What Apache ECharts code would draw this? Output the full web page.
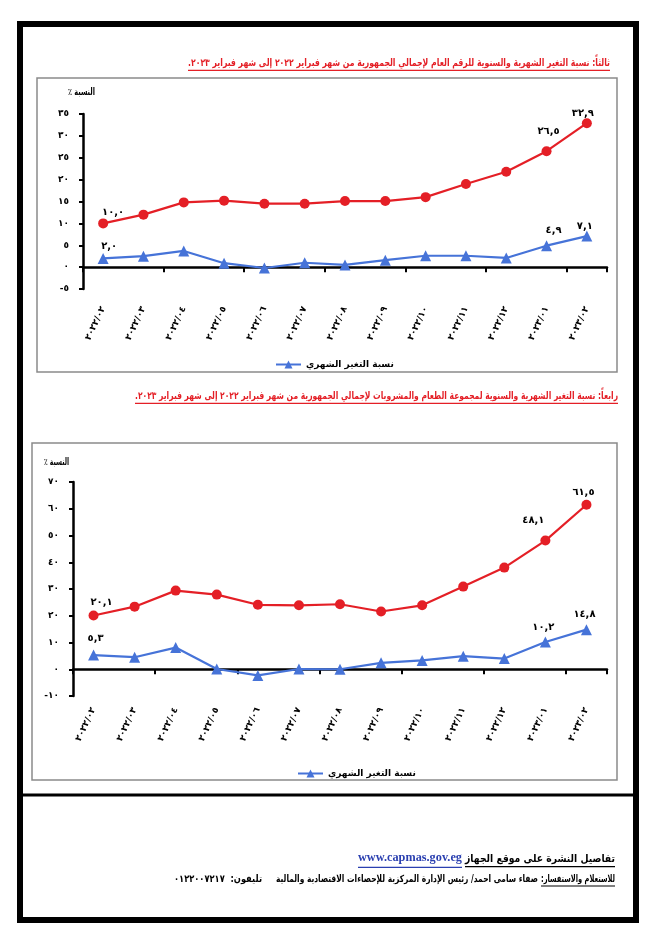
<!DOCTYPE html>
<html><head><meta charset="utf-8">
<script src="https://cdn.jsdelivr.net/npm/echarts@6/dist/echarts.min.js"></script>
<style>html,body{margin:0;padding:0;background:#fff}#c{width:664px;height:940px}</style>
</head><body><div id="c"></div>
<script>
// ---- data ----
const categories = ['٢٠٢٢/٠٢','٢٠٢٢/٠٣','٢٠٢٢/٠٤','٢٠٢٢/٠٥','٢٠٢٢/٠٦','٢٠٢٢/٠٧','٢٠٢٢/٠٨','٢٠٢٢/٠٩','٢٠٢٢/١٠','٢٠٢٢/١١','٢٠٢٢/١٢','٢٠٢٣/٠١','٢٠٢٣/٠٢'];
const chart1Annual  = [10.0, 12.0, 14.8, 15.2, 14.5, 14.5, 15.1, 15.1, 16.0, 19.0, 21.8, 26.5, 32.9];
const chart1Monthly = [2.0, 2.5, 3.7, 0.9, -0.2, 1.0, 0.5, 1.6, 2.6, 2.6, 2.1, 4.9, 7.1];
const chart2Annual  = [20.1, 23.4, 29.4, 27.9, 24.1, 23.9, 24.3, 21.6, 23.9, 30.9, 38.0, 48.1, 61.5];
const chart2Monthly = [5.3, 4.5, 8.1, 0.1, -2.3, 0.1, 0.0, 2.4, 3.3, 4.9, 4.0, 10.2, 14.8];
const labelledPoints = [0, 11, 12];
const annualName = 'نسبة التغير السنوي';
const monthlyName = 'نسبة التغير الشهري';
const title1 = 'ثالثاً: نسبة التغير الشهرية والسنوية للرقم العام لإجمالي الجمهورية من شهر فبراير ٢٠٢٢ إلى شهر فبراير ٢٠٢٣.';
const title2 = 'رابعاً: نسبة التغير الشهرية والسنوية لمجموعة الطعام والمشروبات لإجمالي الجمهورية من شهر فبراير ٢٠٢٢ إلى شهر فبراير ٢٠٢٣.';
const yName = 'النسبة ٪';
const footer1 = 'تفاصيل النشرة على موقع الجهاز';
const footerUrl = 'www.capmas.gov.eg';
const footer2a = 'للاستعلام والاستفسار:';
const footer2b = 'صفاء سامى احمد/ رئيس الإدارة المركزية للإحصاءات الاقتصادية والمالية';
const footer2c = 'تليفون:  ٠١٢٢٠٠٧٢١٧';

// ---- helpers ----
const AR = '٠١٢٣٤٥٦٧٨٩';
function toAr(s){ return String(s).replace(/[0-9]/g, d => AR[+d]).replace('.', ','); }
const RLM = '\u200F';
const FF = '"DejaVu Sans", sans-serif';
const mctx = document.createElement('canvas').getContext('2d');
function tw(text, font){ mctx.font = font; return mctx.measureText(text).width; }

const RED = '#e41f26', BLUE = '#4673d8';

function makeData(vals, offsets){
  return vals.map((v, i) => {
    const k = labelledPoints.indexOf(i);
    if (k < 0) return v;
    return { value: v, label: { show: true, offset: offsets[k],
      formatter: p => toAr(p.value.toFixed(1)) } };
  });
}

const axisLabelStyle = { color:'#000', fontSize: 9, fontWeight:'bold', fontFamily: FF };

function buildAxes(gi, min, max, interval, labelMargin){
  const x1 = { type:'category', gridIndex: gi, data: categories, boundaryGap: true,
    axisLine:{ onZero:true, lineStyle:{ color:'#000', width:2.5 } },
    axisTick:{ show:true, length:5, lineStyle:{ color:'#000', width:2 } },
    axisLabel:{ show:false }, splitLine:{ show:false } };
  const x2 = { type:'category', gridIndex: gi, data: categories, boundaryGap: true, position:'bottom',
    axisLine:{ show:false, onZero:false }, axisTick:{ show:false }, splitLine:{ show:false },
    axisLabel:Object.assign({ rotate:65, margin: labelMargin, interval:0 }, axisLabelStyle) };
  const y = { type:'value', gridIndex: gi, min, max, interval,
    axisLine:{ show:true, lineStyle:{ color:'#000', width:2.5 } },
    axisTick:{ show:true, length:4, lineStyle:{ color:'#000', width:2 } },
    splitLine:{ show:false },
    axisLabel:Object.assign({ margin: 14, formatter: v => toAr(v) }, axisLabelStyle) };
  return { xs:[x1, x2], y };
}

const a1 = buildAxes(0, -5, 35, 5, 18);
const a2 = buildAxes(1, -10, 70, 10, 12);

const dataLabel = { color:'#000', fontSize:10, fontWeight:'bold', fontFamily: FF, position:'top' };

function lineSeries(name, color, symbol, xi, yi, data){
  return { name, type:'line', xAxisIndex: xi, yAxisIndex: yi, data,
    symbol, symbolSize: symbol === 'circle' ? 10 : 11, showSymbol:true,
    lineStyle:{ color, width:2.2 }, itemStyle:{ color },
    label: Object.assign({ show:false }, dataLabel), z: symbol==='circle'?3:4 };
}

// text fitted to a target width (horizontal scale only), right-aligned at xRight
function fitted(text, xRight, y, size, family, targetW, color, underline){
  const font = 'bold ' + size + 'px ' + family;
  const w = tw(text, font);
  const sx = targetW / w;
  const out = [{ type:'text', x:xRight, y, scaleX:sx, scaleY:1,
    style:{ text, font, fill:color, align:'right', verticalAlign:'middle', textAlign:'right', textVerticalAlign:'middle' } }];
  if (underline) out.push({ type:'line', shape:{ x1:xRight - targetW, y1:y + size*0.7, x2:xRight, y2:y + size*0.7 }, style:{ stroke:color, lineWidth:1.2 } });
  return out;
}

const t1 = RLM + title1 + RLM, t2 = RLM + title2 + RLM;

const graphic = [
  { type:'rect', shape:{ x:20, y:24, width:616, height:896 }, style:{ fill:'none', stroke:'#000', lineWidth:6 } },
  { type:'rect', shape:{ x:37, y:78, width:580, height:294 }, style:{ fill:'none', stroke:'#8a8a8a', lineWidth:1.5 } },
  { type:'rect', shape:{ x:32, y:443, width:585, height:337 }, style:{ fill:'none', stroke:'#8a8a8a', lineWidth:1.5 } },
  { type:'line', shape:{ x1:20, y1:795, x2:636, y2:795 }, style:{ stroke:'#000', lineWidth:3 } },
  ...fitted(t1, 610, 63, 10.5, FF, 422, RED, true),
  ...fitted(t2, 618, 396, 10.5, FF, 483, RED, true),
  ...fitted(yName + RLM, 95, 92, 10, FF, 27, '#000', false),
  ...fitted(yName + RLM, 69, 462, 10, FF, 25, '#000', false),
  ...fitted(footer1, 615, 859, 11, FF, 150, '#000', true),
  ...fitted(footerUrl, 462, 858, 13.5, '"Liberation Serif", serif', 104, '#2a3fb0', true),
  ...fitted(RLM + footer2a + RLM, 615, 879, 10, FF, 74, '#000', true),
  ...fitted(footer2b, 538, 879, 10, FF, 262, '#000', false),
  ...fitted(RLM + footer2c + RLM, 262, 879, 10, FF, 88, '#000', false)
];

const legendText = { color:'#000', fontSize:9, fontWeight:'bold', fontFamily:FF };
const option = {
  animation:false,
  backgroundColor:'#fff',
  grid:[
    { left:83, top:114, width:524, height:175 },
    { left:73, top:482, width:534, height:214 }
  ],
  xAxis:[ a1.xs[0], a1.xs[1], a2.xs[0], a2.xs[1] ],
  yAxis:[ a1.y, a2.y ],
  legend:[
    { data:[monthlyName], left:270, top:355, itemWidth:25, itemHeight:10, itemGap:4, textStyle:legendText },
    { data:[monthlyName], left:292, top:764, itemWidth:25, itemHeight:10, itemGap:4, textStyle:legendText }
  ],
  series:[
    lineSeries(annualName, RED, 'circle', 0, 0, makeData(chart1Annual, [[10,4],[2,-5],[-4,5]])),
    lineSeries(monthlyName, BLUE, 'triangle', 0, 0, makeData(chart1Monthly, [[6,4],[7,0],[-2,6]])),
    lineSeries(annualName, RED, 'circle', 2, 1, makeData(chart2Annual, [[8,2],[-12,-5],[-3,3]])),
    lineSeries(monthlyName, BLUE, 'triangle', 2, 1, makeData(chart2Monthly, [[2,-1],[-2,1],[-2,0]]))
  ],
  graphic
};
const chart = echarts.init(document.getElementById('c'), null, { renderer:'canvas' });
chart.setOption(option);
</script></body></html>
